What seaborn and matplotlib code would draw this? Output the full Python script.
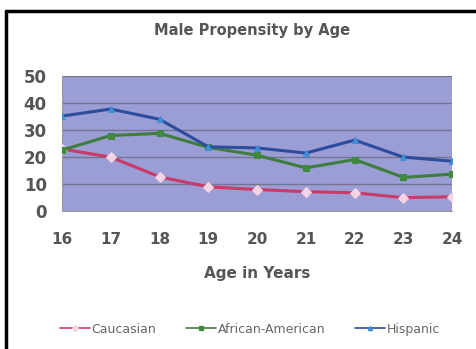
import matplotlib
matplotlib.use("Agg")
import matplotlib.pyplot as plt
import seaborn as sns
import pandas as pd
from matplotlib.lines import Line2D

ages = [16, 17, 18, 19, 20, 21, 22, 23, 24]
caucasian = [23, 20, 12.7, 9, 8, 7.2, 6.8, 5, 5.3]
african_american = [22.6, 28, 28.8, 23.6, 20.7, 16, 19.1, 12.5, 13.7]
hispanic = [35.2, 37.8, 34, 23.8, 23.4, 21.5, 26.3, 20, 18.5]
groups = ["Caucasian", "African-American", "Hispanic"]
y_ticks = [0, 10, 20, 30, 40, 50]

df = pd.DataFrame({
    "age": ages * 3,
    "value": caucasian + african_american + hispanic,
    "group": [g for g in groups for _ in ages],
})

sns.set_style("white")
plt.rcParams["font.family"] = ["DejaVu Sans"]

fig = plt.figure(figsize=(4.77, 3.49), dpi=100)
ax = fig.add_axes([0.130, 0.395, 0.818, 0.387])

line_colors = {"Caucasian": "#c93a68", "African-American": "#3f7d3c", "Hispanic": "#2c4c9c"}
face_colors = {"Caucasian": "#f3d3e4", "African-American": "#3f8a3c", "Hispanic": "#3f8fd6"}
markers = {"Caucasian": "D", "African-American": "s", "Hispanic": "^"}

ax.set_facecolor("#9b9dd5")
for yv in y_ticks[1:]:
    ax.axhline(yv, color="#73748f", lw=1.0, zorder=1)

for g in groups:
    sub = df[df["group"] == g]
    sns.lineplot(data=sub, x="age", y="value", ax=ax, color=line_colors[g],
                 lw=2.2, marker=markers[g], markersize=5,
                 markerfacecolor=face_colors[g], markeredgecolor=face_colors[g],
                 legend=False, zorder=3)

ax.set_xlim(16, 24)
ax.set_ylim(0, 50)
ax.set_yticks(y_ticks)
ax.set_xticks(ages)
ax.set_yticklabels([str(v) for v in y_ticks], fontsize=12, fontweight="bold", color="#555555")
ax.set_xticklabels([str(a) for a in ages], fontsize=11, fontweight="bold", color="#555555")
ax.tick_params(axis="both", length=5, width=1, color="#888888", direction="out")
ax.tick_params(axis="y", pad=6)
ax.tick_params(axis="x", pad=10)
for side in ["top", "right"]:
    ax.spines[side].set_visible(False)
ax.spines["left"].set_color("#999999")
ax.spines["bottom"].set_color("#999999")
ax.set_xlabel("Age in Years", fontsize=11, fontweight="bold", color="#555555", labelpad=14)
ax.set_ylabel("")

fig.text(0.529, 0.914, "Male Propensity by Age", ha="center", va="center",
         fontsize=10.5, fontweight="bold", color="#555555")

handles = [Line2D([0], [0], color=line_colors[g], lw=1.2, marker=markers[g], markersize=3,
                  markerfacecolor=face_colors[g], markeredgecolor=face_colors[g])
           for g in groups]
fig.legend(handles, groups, loc="center", bbox_to_anchor=(0.524, 0.057), ncol=3,
           frameon=False, fontsize=9, handlelength=2.4, handletextpad=0.1,
           columnspacing=2.4, labelcolor="#666666")

# frame lines along the top and left edges
fig.add_artist(Line2D([0.013, 1.0], [0.968, 0.968], transform=fig.transFigure,
                      color="black", lw=2.5))
fig.add_artist(Line2D([0.013, 0.013], [0.0, 0.968], transform=fig.transFigure,
                      color="black", lw=2.5))

fig.savefig("out.png", dpi=100, facecolor="white")
